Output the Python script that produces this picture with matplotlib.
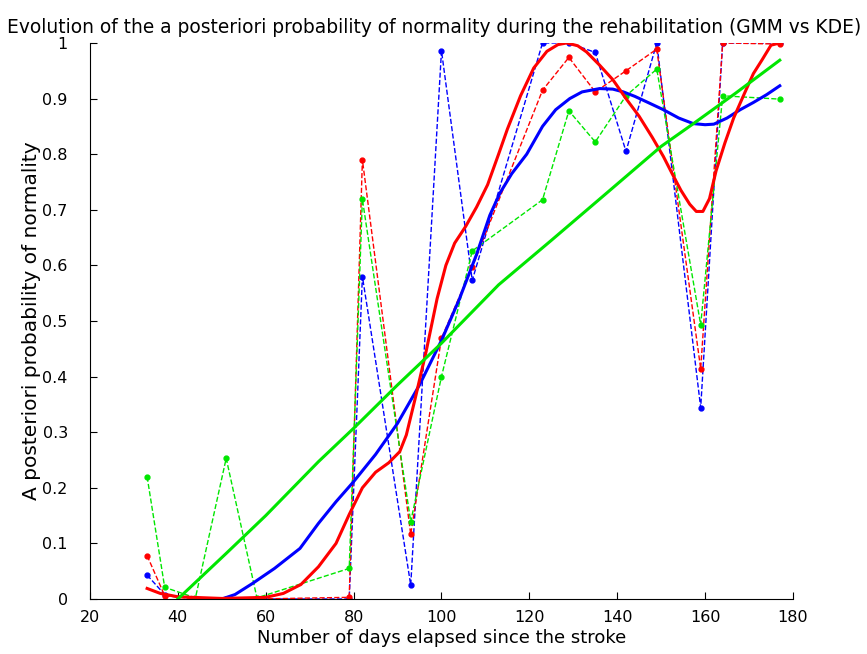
import numpy as np
import matplotlib
matplotlib.use("Agg")
from matplotlib import pyplot as plt
from matplotlib.ticker import FormatStrFormatter

# sampled days and a posteriori probabilities (dashed series)
days = [33, 37, 44, 51, 58, 79, 82, 93, 100, 107, 123, 129, 135, 142, 149, 159, 164, 177]
p_blue = [0.043, 0.008, 0, 0, 0, 0.0, 0.58, 0.025, 0.986, 0.573, 1.0, 1.0, 0.983, 0.805, 1.0, 0.344, 1.0, 1.0]
p_red = [0.078, 0.006, 0, 0, 0, 0.003, 0.79, 0.116, 0.469, 0.597, 0.915, 0.974, 0.912, 0.95, 0.989, 0.414, 1.0, 0.998]
p_green = [0.22, 0.021, 0.002, 0.253, 0.002, 0.055, 0.719, 0.139, 0.40, 0.626, 0.718, 0.878, 0.822, 0.905, 0.953, 0.493, 0.905, 0.899]

# smoothed trends (thick lines)
red_x = [33, 36, 40, 50, 60, 64, 68, 72, 76, 79, 82, 85, 88, 90.5, 92, 94, 96.5, 99, 101, 103,
         105.5, 108, 110.5, 113, 115, 118, 121, 124, 126.5, 128.5, 131, 133, 136, 139, 142, 145,
         148, 150.5, 152.5, 154.5, 156.5, 158, 159.5, 161, 162.5, 164.5, 166.5, 169, 171, 173, 175, 177]
red_y = [0.019, 0.01, 0.004, 0.001, 0.003, 0.01, 0.026, 0.058, 0.1, 0.152, 0.2, 0.228, 0.245, 0.265,
         0.295, 0.36, 0.445, 0.54, 0.6, 0.64, 0.67, 0.705, 0.745, 0.8, 0.845, 0.905, 0.955, 0.985,
         0.997, 1.0, 0.995, 0.984, 0.96, 0.934, 0.9, 0.868, 0.83, 0.796, 0.765, 0.735, 0.71, 0.697,
         0.697, 0.72, 0.77, 0.82, 0.865, 0.91, 0.945, 0.97, 0.996, 1.0]

blue_x = [50, 53, 57, 62, 67.8, 72, 76, 80, 85, 90, 95, 100, 104, 108, 111, 113.3, 116, 119.4, 123,
          126, 129.2, 132, 136, 139, 141.4, 144, 147, 150.5, 154, 157.3, 160, 162, 165, 168, 171, 174, 177]
blue_y = [0.0, 0.008, 0.028, 0.055, 0.091, 0.136, 0.175, 0.211, 0.26, 0.316, 0.385, 0.465, 0.538,
          0.62, 0.69, 0.73, 0.765, 0.80, 0.85, 0.88, 0.90, 0.912, 0.918, 0.917, 0.912, 0.904, 0.893,
          0.88, 0.865, 0.855, 0.853, 0.854, 0.865, 0.88, 0.893, 0.907, 0.923]

green_x = [40, 51, 60, 72, 80, 90, 100, 113, 125, 137, 150, 157, 167, 177]
green_y = [0.0, 0.082, 0.15, 0.247, 0.307, 0.385, 0.46, 0.565, 0.645, 0.726, 0.814, 0.853, 0.91, 0.969]

B, R, G = (0, 0, 1), (1, 0, 0), (0, 0.9, 0)

plt.rcParams['font.family'] = ['DejaVu Sans']
fig = plt.figure(figsize=(8.67, 6.54), dpi=100)
ax = fig.add_axes([0.1038, 0.0841, 0.8108, 0.8502])

ax.plot(days, p_blue, '--', color=B, lw=1, marker='.', ms=7)
ax.plot(days, p_red, '--', color=R, lw=1, marker='.', ms=7)
ax.plot(days, p_green, '--', color=G, lw=1, marker='.', ms=7)

ax.plot(blue_x, blue_y, color=B, lw=2.2)
ax.plot(red_x, red_y, color=R, lw=2.2)
ax.plot(green_x, green_y, color=G, lw=2.2)

ax.set_xlim(20, 180)
ax.set_ylim(0, 1)
ax.set_xticks(np.arange(20, 181, 20))
ax.set_yticks(np.arange(0, 1.01, 0.1))
ax.yaxis.set_major_formatter(FormatStrFormatter('%g'))
ax.spines['top'].set_visible(False)
ax.spines['right'].set_visible(False)
ax.tick_params(direction='in', length=5, labelsize=11.5)
ax.tick_params(axis='y', pad=16)
ax.tick_params(axis='x', pad=8)

ax.set_title("Evolution of the a posteriori probability of normality during the rehabilitation (GMM vs KDE)",
             fontsize=13.4, pad=7, x=0.49)
ax.set_xlabel("Number of days elapsed since the stroke", fontsize=13, labelpad=3)
ax.set_ylabel("A posteriori probability of normality", fontsize=14.5, labelpad=1)

fig.savefig("out.png")
